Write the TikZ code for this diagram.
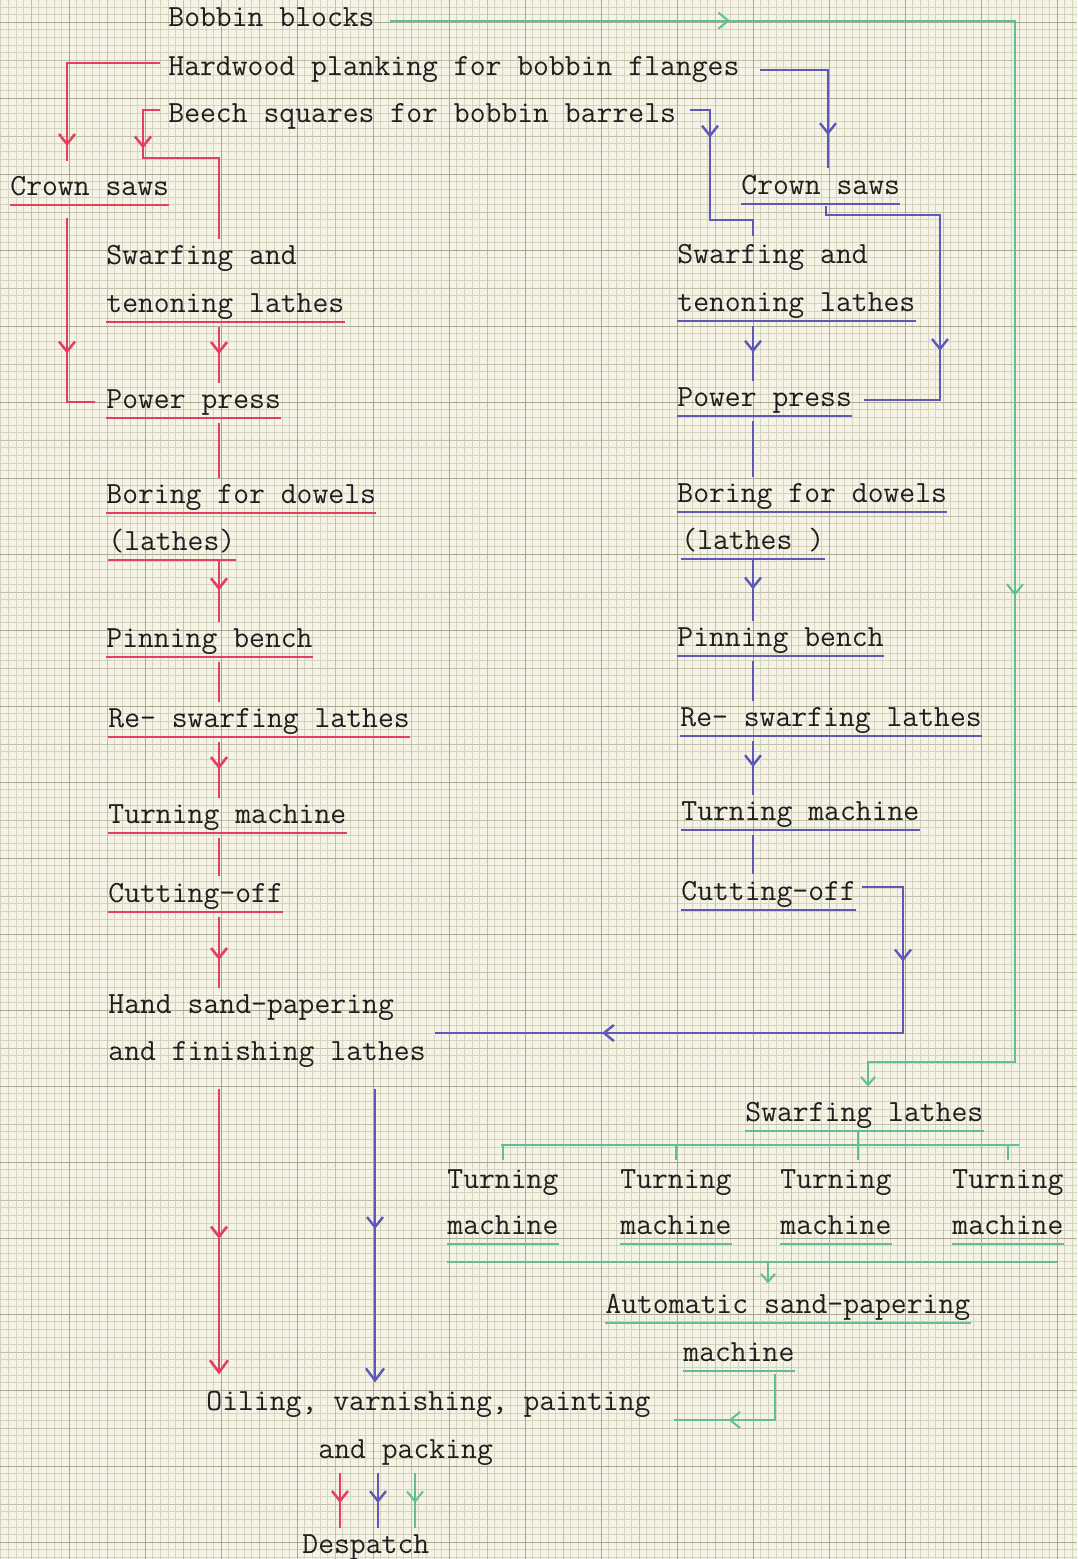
\documentclass[tikz,border=0pt]{standalone}
\usepackage{fontspec}
\usetikzlibrary{calc,arrows.meta,decorations.markings}

\definecolor{paper}{HTML}{F5F3E6}
\definecolor{gridfine}{HTML}{D6D4BE}
\definecolor{gridmid}{HTML}{C2C0A9}
\definecolor{gridmajor}{HTML}{ABA992}
\definecolor{inkred}{HTML}{E2405F}
\definecolor{inkblue}{HTML}{5E58B8}
\definecolor{inkgreen}{HTML}{62C08E}
\definecolor{typeink}{HTML}{1E1E1E}

\tikzset{
  typed/.style={anchor=base west, inner sep=0pt, text=typeink, font=\ttfamily\fontsize{15.4pt}{18pt}\selectfont},
  redpen/.style={draw=inkred, line width=1.3pt},
  bluepen/.style={draw=inkblue, line width=1.2pt},
  greenpen/.style={draw=inkgreen, line width=1pt},
  barb/.style={postaction={decorate, decoration={markings,
      mark=at position #1 with {\arrow{Straight Barb[length=5pt,width=8pt]}}}}},
  endbarb/.style={-{Straight Barb[length=6pt,width=9pt]}},
  link/.style={shorten <=4pt, shorten >=3pt},
}

% underline drawn by hand under a typed line
\newcommand{\underpen}[2]{\draw[#1] ([yshift=-5pt]#2.base west) -- ([yshift=-5pt]#2.base east);}

\begin{document}
\begin{tikzpicture}[x=0.5pt, y=-0.5pt]
\useasboundingbox (0,0) rectangle (1077,1559);

% graph paper
\fill[paper] (0,0) rectangle (1077,1559);
\foreach \k in {0,...,141} \draw[gridfine, line width=0.3pt] ({0.6+7.6*\k},0) -- ++(0,1559);
\foreach \k in {0,...,204} \draw[gridfine, line width=0.3pt] (0,{6.8+7.6*\k}) -- ++(1077,0);
\foreach \k in {0,...,28} \draw[gridmid, line width=0.35pt] ({-7+38*\k},0) -- ++(0,1559);
\foreach \k in {0,...,40} \draw[gridmid, line width=0.35pt] (0,{22+38*\k}) -- ++(1077,0);
\foreach \k in {0,...,14} \draw[gridmajor, line width=0.5pt] ({-7+76*\k},0) -- ++(0,1559);
\foreach \k in {0,...,20} \draw[gridmajor, line width=0.5pt] (0,{22+76*\k}) -- ++(1077,0);

% raw materials
\node[typed] (bobbin) at (168,26) {Bobbin blocks};
\node[typed] (hardwood) at (168,75) {Hardwood planking for bobbin flanges};
\node[typed] (beech) at (168,122) {Beech squares for bobbin barrels};

% flanges (red)
\node[typed] (csL) at (10,195) {Crown saws};
\node[typed] (swL1) at (106,264) {Swarfing and};
\node[typed] (swL2) at (106,312) {tenoning lathes};
\node[typed] (ppL) at (106,408) {Power press};
\node[typed] (boL1) at (106,503) {Boring for dowels};
\node[typed] (boL2) at (108,550) {(lathes)};
\node[typed] (pbL) at (106,647) {Pinning bench};
\node[typed] (rsL) at (108,727) {Re- swarfing lathes};
\node[typed] (tmL) at (108,823) {Turning machine};
\node[typed] (coL) at (108,902) {Cutting-off};
\node[typed] (hs1) at (108,1013) {Hand sand-papering};
\node[typed] (hs2) at (108,1060) {and finishing lathes};

% barrels (blue)
\node[typed] (csR) at (741,194) {Crown saws};
\node[typed] (swR1) at (677,263) {Swarfing and};
\node[typed] (swR2) at (677,311) {tenoning lathes};
\node[typed] (ppR) at (677,406) {Power press};
\node[typed] (boR1) at (677,502) {Boring for dowels};
\node[typed] (boR2) at (681,549) {(lathes )};
\node[typed] (pbR) at (677,646) {Pinning bench};
\node[typed] (rsR) at (680,726) {Re- swarfing lathes};
\node[typed] (tmR) at (681,820) {Turning machine};
\node[typed] (coR) at (681,900) {Cutting-off};

% bobbin blocks (green)
\node[typed] (swG) at (745,1121) {Swarfing lathes};
\foreach \n/\x in {1/447,2/620,3/780,4/952} {
  \node[typed] (tmT\n) at (\x,1188) {Turning};
  \node[typed] (tmM\n) at (\x,1234) {machine};
}
\node[typed] (asp1) at (605,1313) {Automatic sand-papering};
\node[typed] (asp2) at (683,1361) {machine};

% finishing
\node[typed] (ov1) at (206,1410) {Oiling, varnishing, painting};
\node[typed] (ov2) at (318,1458) {and packing};
\node[typed] (desp) at (302,1553) {Despatch};

% columns and rows for the pen lines
\coordinate (rA) at (67,0);
\coordinate (rB) at (143,0);
\coordinate (rC) at (219,0);
\coordinate (rowRB) at (0,158);
\coordinate (bA) at (710,0);
\coordinate (bB) at (828,0);
\coordinate (bC) at (753,0);
\coordinate (bD) at (940,0);
\coordinate (bE) at (903,0);
\coordinate (bF) at (375,0);
\coordinate (rowBB) at (0,220);
\coordinate (rowBL) at (0,215);
\coordinate (rowCO) at (0,1033);
\coordinate (gA) at (1015,0);
\coordinate (gB) at (868,0);
\coordinate (gC) at (858,0);
\coordinate (gD) at (768,0);
\coordinate (gE) at (775,0);
\coordinate (rowGT) at (0,1062);
\coordinate (rowBus) at (0,1145);
\coordinate (rowCol) at (0,1262);
\coordinate (rowAS) at (0,1420);
\coordinate (dR) at (340,0);
\coordinate (dB) at (378,0);
\coordinate (dG) at (415,0);

% red
\foreach \n in {csL,swL2,ppL,boL1,boL2,pbL,rsL,tmL,coL} \underpen{redpen}{\n};
\draw[redpen, barb=0.92] ($(hardwood.west)+(-8,-6)$) -| ($(csL.north -| rA)+(0,-14)$);
\draw[redpen, barb=0.25] ($(beech.west)+(-8,-6)$) -| (rB |- rowRB) -| ($(swL1.north -| rC)+(0,-5)$);
\draw[redpen, barb=0.64] ($(csL.south -| rA)+(0,22)$) |- ($(ppL.west)+(-11,0)$);
\draw[redpen, link, barb=0.5] (swL2.south -| rC) -- (ppL.north -| rC);
\draw[redpen, link] (ppL.south -| rC) -- (boL1.north -| rC);
\draw[redpen, link, barb=0.5] (boL2.south -| rC) -- (pbL.north -| rC);
\draw[redpen, link] (pbL.south -| rC) -- (rsL.north -| rC);
\draw[redpen, link, barb=0.5] (rsL.south -| rC) -- (tmL.north -| rC);
\draw[redpen, link] (tmL.south -| rC) -- (coL.north -| rC);
\draw[redpen, link, barb=0.6] (coL.south -| rC) -- (hs1.north -| rC);
\draw[redpen, endbarb, shorten <=11pt, shorten >=8pt, barb=0.53] (hs2.south -| rC) -- (ov1.north -| rC);
\draw[redpen, link, barb=0.55] (ov2.south -| dR) -- (desp.north -| dR);

% blue
\foreach \n in {csR,swR2,ppR,boR1,boR2,pbR,rsR,tmR,coR} \underpen{bluepen}{\n};
\draw[bluepen, barb=0.8] ($(hardwood.east)+(20,1)$) -| ($(csR.north -| bB)+(0,-6)$);
\draw[bluepen, barb=0.25] ($(beech.east)+(14,-6)$) -| (bA |- rowBB) -| ($(swR1.north -| bC)+(0,-7)$);
\draw[bluepen, barb=0.675] ($(csR.south)+(5,11)$) |- (bD |- rowBL) |- ($(ppR.east)+(12,0)$);
\draw[bluepen, link, barb=0.5] (swR2.south -| bC) -- (ppR.north -| bC);
\draw[bluepen, link] (ppR.south -| bC) -- (boR1.north -| bC);
\draw[bluepen, link, barb=0.5] (boR2.south -| bC) -- (pbR.north -| bC);
\draw[bluepen, link] (pbR.south -| bC) -- (rsR.north -| bC);
\draw[bluepen, link, barb=0.5] (rsR.south -| bC) -- (tmR.north -| bC);
\draw[bluepen, link] (tmR.south -| bC) -- (coR.north -| bC);
\draw[bluepen, barb=0.176, barb=0.745] ($(coR.east)+(6,-7)$) -| (bE |- rowCO) -- ($(hs2.east |- rowCO)+(9,0)$);
\draw[bluepen, endbarb, shorten <=11pt, shorten >=4pt, barb=0.5] (hs2.south -| bF) -- (ov1.north -| bF);
\draw[bluepen, link, barb=0.55] (ov2.south -| dB) -- (desp.north -| dB);

% green
\foreach \n in {swG,tmM1,tmM2,tmM3,tmM4,asp1,asp2} \underpen{greenpen}{\n};
\draw[greenpen, barb=0.185, barb=0.653, -{Straight Barb[length=4pt,width=7pt]}]
  ($(bobbin.east)+(15,4)$) -| (gA |- rowGT) -| ($(swG.north -| gB)+(0,-15)$);
\draw[greenpen] ($(swG.south -| gC)+(0,4)$) -- ($(tmT3.north -| gC)+(0,-9)$);
\draw[greenpen] ($(tmT1.north |- rowBus)+(-2,0)$) -- ($(tmT4.north |- rowBus)+(11,0)$);
\foreach \n in {1,2,4} \draw[greenpen] (tmT\n.north |- rowBus) -- ($(tmT\n.north)+(0,-9)$);
\draw[greenpen] (tmM1.south west |- rowCol) -- ($(tmM4.south east |- rowCol)+(-7,0)$);
\draw[greenpen, -{Straight Barb[length=4pt,width=7pt]}] (gD |- rowCol) -- ($(asp1.north -| gD)+(0,-10)$);
\draw[greenpen, barb=0.63] ($(asp2.south -| gE)+(0,12)$) |- ($(ov1.east |- rowAS)+(23,0)$);
\draw[greenpen, link, barb=0.55] (ov2.south -| dG) -- (desp.north -| dG);
\end{tikzpicture}
\end{document}
